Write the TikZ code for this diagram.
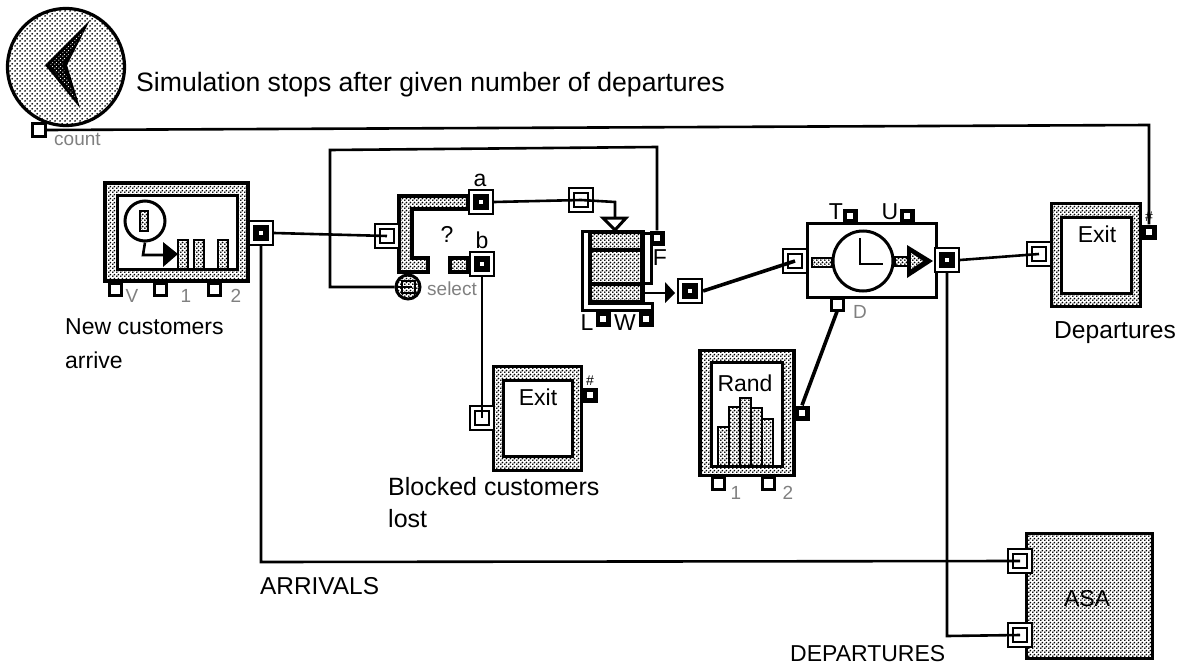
\documentclass[tikz,border=0pt]{standalone}
\usepackage{fontspec}
\setmainfont{Liberation Sans}
\usetikzlibrary{patterns,positioning}
\pgfdeclarepatternformonly{lightdots}{\pgfpointorigin}{\pgfqpoint{4.6pt}{4.6pt}}{\pgfqpoint{4.6pt}{4.6pt}}{
    \pgfpathcircle{\pgfqpoint{1.15pt}{1.15pt}}{1.05pt}
    \pgfpathcircle{\pgfqpoint{3.45pt}{3.45pt}}{1.05pt}
    \pgfusepath{fill}}
\pgfdeclarepatternformonly{darkdots}{\pgfpointorigin}{\pgfqpoint{4pt}{4pt}}{\pgfqpoint{4pt}{4pt}}{
    \pgfpathcircle{\pgfqpoint{1pt}{1pt}}{1.12pt}
    \pgfpathcircle{\pgfqpoint{3pt}{3pt}}{1.12pt}
    \pgfusepath{fill}}
\pgfdeclarepatternformonly{whitedots}{\pgfpointorigin}{\pgfqpoint{3.6pt}{3.6pt}}{\pgfqpoint{3.6pt}{3.6pt}}{
    \pgfpathcircle{\pgfqpoint{0.9pt}{0.9pt}}{0.7pt}
    \pgfpathcircle{\pgfqpoint{2.7pt}{2.7pt}}{0.7pt}
    \pgfusepath{fill}}
\tikzset{
    wire/.style={line width=2.6pt,draw=black},
    fatwire/.style={line width=3.6pt,draw=black},
    dotfill/.style={draw=black,line width=3.2pt,pattern=darkdots,pattern color=black},
    whitebox/.style={draw=black,line width=3pt,fill=white,inner sep=0pt},
    inport/.style={draw=black,line width=2.4pt,fill=white,inner sep=0pt,minimum size=24pt,
        path picture={\draw[black,line width=2.6pt] ([shift={(-7pt,-7pt)}]path picture bounding box.center) rectangle ([shift={(7pt,7pt)}]path picture bounding box.center);}},
    outport/.style={draw=black,line width=2.2pt,fill=white,inner sep=0pt,minimum size=24pt,
        path picture={\fill[black] ([shift={(-8pt,-8pt)}]path picture bounding box.center) rectangle ([shift={(8pt,8pt)}]path picture bounding box.center);
            \fill[white] ([shift={(-2pt,-2pt)}]path picture bounding box.center) rectangle ([shift={(2pt,2pt)}]path picture bounding box.center);}},
    miniport/.style={fill=black,inner sep=0pt,minimum size=15pt,
        path picture={\fill[white] ([shift={(-3pt,-3pt)}]path picture bounding box.center) rectangle ([shift={(3pt,3pt)}]path picture bounding box.center);}},
    emptyport/.style={draw=black,line width=3pt,fill=white,inner sep=0pt,minimum size=12pt},
    bigtext/.style={font=\fontsize{#1}{#1}\selectfont,inner sep=0pt,anchor=west},
    bigtext/.default=23,
    midtext/.style={font=\fontsize{23}{23}\selectfont,inner sep=0pt},
    marktext/.style={font=\fontsize{14}{14}\selectfont,inner sep=0pt},
    fainttext/.style={font=\fontsize{19}{19}\selectfont,inner sep=0pt,text=black!50}
}
\begin{document}
\begin{tikzpicture}[x=1pt,y=-1pt]
  \useasboundingbox (0,0) rectangle (1186,669);
  % stop button
  \node[draw=black,line width=3.2pt,pattern=lightdots,pattern color=black,circle,inner sep=0pt,minimum size=117pt] (stopBall) at (66,67) {};
  \fill[black] (90,20) -- (45,65) -- (80,108) -- (67,65) -- cycle;
  \fill[pattern=whitedots,pattern color=white] (84,30) -- (50,65) -- (76,100) -- (62,65) -- cycle;
  \node[emptyport,minimum size=13pt] (stopCount) at (39,130) {};
  \node[fainttext,anchor=west] (countLabel) at (54,139) {count};
  \node[bigtext=26.6] (stopLabel) at (136,85) {Simulation stops after given number of departures};
  % generator
  \node[dotfill,minimum width=143pt,minimum height=98pt] (genBox) at (176.5,232) {};
  \node[whitebox,minimum width=120pt,minimum height=74pt] (genInner) at (177,232) {};
  \node[circle,whitebox,minimum size=40pt] (genBall) at (145,221) {};
  \draw[dotfill,line width=2.2pt] (140,211) rectangle (148,231);
  \foreach \X in {178,194,218}{\draw[dotfill,line width=2.6pt] (\X,240) rectangle +(10,29);}
  \fill[black] (163,242) -- (163,267) -- (178,254) -- cycle;
  \draw[wire] (genBall.south) -- (143,255) -- (165,255);
  \node[emptyport] (genV) at (115,289) {};
  \node[emptyport] (genOne) at (160,289) {};
  \node[emptyport] (genTwo) at (214,289) {};
  \node[fainttext] (labV) at (132,296) {V};
  \node[fainttext] (labOne) at (186,296) {1};
  \node[fainttext] (labTwo) at (236,296) {2};
  \node[outport] (genOut) at (261,233) {};
  \node[bigtext] (newLabel) at (65,327) {New customers};
  \node[bigtext] (arriveLabel) at (65,360) {arrive};
  % select block
  \draw[dotfill] (399,196) -- (468,196) -- (468,209) -- (412,209) -- (412,258) -- (428,258) -- (428,272) -- (399,272) -- cycle;
  \draw[dotfill] (450,258) rectangle (468,272);
  \node[inport] (selIn) at (387,236) {};
  \node[outport] (selA) at (481,202) {};
  \node[outport] (selB) at (482,264) {};
  \node[midtext] (labA) at (480,180) {a};
  \node[midtext] (labB) at (482,240) {b};
  \node[midtext] (labQ) at (447,234) {?};
  \node[circle,draw=black,line width=3pt,pattern=darkdots,pattern color=black,inner sep=0pt,minimum size=24pt] (selBall) at (408,287) {};
  \draw[black,line width=2pt] (402,281) rectangle (415,293) (396,287) -- (412,287);
  \node[fainttext,anchor=west] (labSelect) at (427,289) {select};
  % queue
  \node[inport] (queueIn) at (581,200) {};
  \draw[whitebox] (582,231) -- (589,231) -- (589,303) -- (652,303) -- (652,310) -- (582,310) -- cycle;
  \draw[whitebox] (643,233) -- (651,233) -- (651,283) -- (643,283) -- cycle;
  \node[draw=black,line width=3pt,fill=black,inner sep=0pt,minimum width=54pt,minimum height=72pt] (queueBox) at (616,267) {};
  \foreach \T/\H in {234/14,252/30,286/14}{\fill[white] (592,\T) rectangle +(48,\H);
    \fill[pattern=darkdots,pattern color=black] (592,\T) rectangle +(48,\H);}
  \draw[whitebox] (603,218) -- (626,218) -- (615,230) -- cycle;
  \coordinate (queueTurn) at (615,202);
  \coordinate (queueTop) at (615,218);
  \fill[black] (665,282) -- (665,303) -- (675,293) -- cycle;
  \coordinate (queueExit) at (643,293);
  \coordinate (queueTip) at (666,293);
  \node[miniport] (queueF) at (657,238) {};
  \node[miniport] (queueL) at (603,319) {};
  \node[miniport] (queueW) at (646,319) {};
  \node[midtext] (labF) at (660,258) {F};
  \node[midtext] (labL) at (587,323) {L};
  \node[midtext] (labW) at (625,323) {W};
  \node[outport] (queueOut) at (690,291) {};
  % delay
  \node[whitebox,minimum width=129pt,minimum height=74pt] (delayBox) at (871.5,260) {};
  \draw[dotfill,line width=1.6pt] (812,258) rectangle (832,267);
  \node[circle,whitebox,minimum size=60pt] (delayBall) at (863,261) {};
  \draw[black,line width=2.8pt] (860,238) -- (860,264) -- (883,264);
  \draw[dotfill,line width=1.6pt] (895,257) rectangle (908,266);
  \fill[black] (907,245) -- (907,278) -- (933,261) -- cycle;
  \fill[white] (911,253) -- (911,269) -- (923,261) -- cycle;
  \fill[pattern=darkdots,pattern color=black] (911,253) -- (911,269) -- (923,261) -- cycle;
  \node[inport] (delayIn) at (795,261) {};
  \node[outport] (delayOut) at (947,260) {};
  \node[miniport] (delayT) at (850,216) {};
  \node[miniport] (delayU) at (907,216) {};
  \node[emptyport] (delayD) at (837,304) {};
  \node[midtext] (labT) at (836,212) {T};
  \node[midtext] (labU) at (890,212) {U};
  \node[fainttext] (labD) at (860,312) {D};
  % rand
  \node[dotfill,minimum width=94pt,minimum height=125pt] (randBox) at (747,413) {};
  \node[whitebox,minimum width=71pt,minimum height=104pt] (randInner) at (746.5,414) {};
  \foreach \X/\T in {718/427,729/407,740/398,751/408,762/419}{\draw[dotfill,line width=2.4pt] (\X,\T) rectangle (\X+11,466);}
  \node[midtext] (randLabel) at (745,383) {Rand};
  \node[emptyport] (randOne) at (718,483) {};
  \node[emptyport] (randTwo) at (768,483) {};
  \node[fainttext] (labRandOne) at (736,493) {1};
  \node[fainttext] (labRandTwo) at (788,493) {2};
  \node[miniport] (randOut) at (802,413) {};
  % exit blocks
  \node[dotfill,minimum width=88pt,minimum height=104pt] (blockBox) at (537.5,418.5) {};
  \node[whitebox,minimum width=69pt,minimum height=76pt] (blockInner) at (538,418.5) {};
  \node[midtext] (blockExit) at (538,397) {Exit};
  \node[inport] (blockIn) at (482,418) {};
  \node[miniport] (blockHash) at (590,395) {};
  \node[marktext] (blockMark) at (590,381) {\#};
  \node[bigtext=25] (blockedLabel) at (388,487) {Blocked customers};
  \node[bigtext=25] (lostLabel) at (388,519) {lost};
  \node[dotfill,minimum width=89pt,minimum height=103pt] (departBox) at (1096,255) {};
  \node[whitebox,minimum width=70pt,minimum height=76pt] (departInner) at (1096.5,255.5) {};
  \node[midtext] (departExit) at (1097,234) {Exit};
  \node[inport] (departIn) at (1039,254) {};
  \node[miniport] (departHash) at (1149,232) {};
  \node[bigtext=24.6] (departLabel) at (1054,333) {Departures};
  % asa
  \node[dotfill,minimum width=126pt,minimum height=125pt] (asaBox) at (1089.5,596) {};
  \node[midtext] (asaLabel) at (1087,599) {ASA};
  \node[inport] (asaTop) at (1020,561) {};
  \node[inport] (asaBottom) at (1020,635) {};
  \node[bigtext=24.4] (arrivalsLabel) at (260,586) {ARRIVALS};
  \node[bigtext] (departuresLabel) at (790,654) {DEPARTURES};
  % wires
  \coordinate (stopCorner) at (1149,125);
  \coordinate (selWest) at (330,287);
  \coordinate (selNorth) at (330,150);
  \coordinate (selEast) at (657,147);
  \coordinate (arrCorner) at (261,562);
  \coordinate (depCorner) at (947,636);
  \draw[wire] (stopCount.east) -- (stopCorner) -- (departHash.north);
  \draw[wire] (genOut.east) -- (selIn.center);
  \draw[wire] (genOut.south) -- (arrCorner) -- (asaTop.center);
  \draw[wire] (selBall.west) -- (selWest) -- (selNorth) -- (selEast) -- (queueF.north);
  \draw[wire] (selA.east) -- (queueIn.center);
  \draw[wire] (queueIn.center) -- (queueTurn) -- (queueTop);
  \draw[wire] (queueExit) -- (queueTip);
  \draw[wire] (selB.south) -- (blockIn.center);
  \draw[fatwire] (queueOut.east) -- (delayIn.center);
  \draw[fatwire] (randOut.north) -- (delayD.south);
  \draw[wire] (delayOut.east) -- (departIn.center);
  \draw[wire] (delayOut.south) -- (depCorner) -- (asaBottom.center);
  \node[marktext] (departMark) at (1149,217) {\#};
\end{tikzpicture}
\end{document}
